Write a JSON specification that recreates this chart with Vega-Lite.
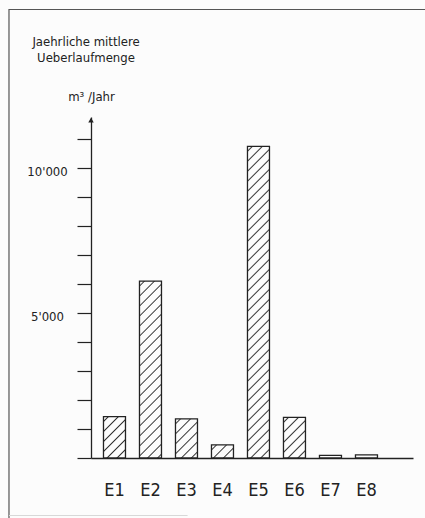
{
  "$schema": "https://vega.github.io/schema/vega-lite/v6.json",
  "autosize": "none",
  "width": 322,
  "height": 341,
  "padding": {"left": 91, "top": 117, "right": 12, "bottom": 60},
  "background": "#fcfcfc",
  "config": {"view": {"stroke": null}},
  "title": {
    "text": ["Jaehrliche mittlere", "Ueberlaufmenge"],
    "anchor": "start",
    "align": "center",
    "dx": -5,
    "frame": "group",
    "offset": -56,
    "lineHeight": 16,
    "fontSize": 13,
    "font": "DejaVu Sans Condensed, DejaVu Sans, sans-serif",
    "fontWeight": "normal",
    "color": "#222"
  },
  "resolve": {"scale": {"x": "independent"}, "axis": {"y": "independent"}},
  "layer": [
    {
      "data": {"values": [{}]},
      "mark": {"type": "rect", "fill": "transparent", "stroke": "#555", "strokeWidth": 1.2},
      "encoding": {
        "x": {"datum": -0.2547, "type": "quantitative", "scale": {"domain": [0, 1]}, "axis": null},
        "x2": {"datum": 1.3},
        "y": {"datum": 15467, "type": "quantitative", "scale": {"domain": [0, 11760], "nice": false}, "axis": null},
        "y2": {"datum": -2600}
      }
    },
    {
      "data": {"values": [{}]},
      "mark": {"type": "rule", "stroke": "#d8d8d8", "strokeWidth": 1},
      "encoding": {
        "x": {"datum": -0.2547, "type": "quantitative", "scale": {"domain": [0, 1]}, "axis": null},
        "x2": {"datum": 0.3},
        "y": {"datum": -1983, "type": "quantitative", "scale": {"domain": [0, 11760], "nice": false}, "axis": null}
      }
    },
    {
      "data": {"values": [{}]},
      "mark": {"type": "point", "shape": "triangle-up", "filled": true, "size": 30, "color": "#222", "opacity": 1},
      "encoding": {
        "x": {"datum": 0, "type": "quantitative", "scale": {"domain": [0, 1]}, "axis": null},
        "y": {"datum": 11650, "type": "quantitative", "scale": {"domain": [0, 11760], "nice": false}, "axis": null}
      }
    },
    {
      "data": {"values": [
        {"id": "E1", "v": 1430},
        {"id": "E2", "v": 6100},
        {"id": "E3", "v": 1350},
        {"id": "E4", "v": 450},
        {"id": "E5", "v": 10750},
        {"id": "E6", "v": 1400},
        {"id": "E7", "v": 90},
        {"id": "E8", "v": 110}
      ]},
      "mark": {"type": "bar", "stroke": "#222", "strokeWidth": 1.3},
      "encoding": {
        "x": {
          "field": "id", "type": "nominal", "sort": null,
          "scale": {"paddingInner": 0.3889, "paddingOuter": 0.667, "align": 0.26},
          "axis": {
            "title": null, "ticks": false, "tickSize": 0, "domain": true, "domainColor": "#222", "domainWidth": 1.3,
            "labelFont": "DejaVu Sans Condensed, DejaVu Sans, sans-serif",
            "labelFontSize": 18, "labelColor": "#222", "labelPadding": 23, "labelAngle": 0, "labelBaseline": "top"
          }
        },
        "y": {
          "field": "v", "type": "quantitative",
          "scale": {"domain": [0, 11760], "nice": false},
          "axis": {
            "title": "m³ /Jahr", "titleAngle": 0, "titleX": 0, "titleY": -21, "titleAlign": "center", "titleBaseline": "middle",
            "titleFont": "DejaVu Sans Condensed, DejaVu Sans, sans-serif", "titleFontSize": 13, "titleFontWeight": "normal", "titleColor": "#222",
            "values": [0, 1000, 2000, 3000, 4000, 5000, 6000, 7000, 8000, 9000, 10000, 11000],
            "tickSize": 14, "tickColor": "#222", "tickWidth": 1.2,
            "domainColor": "#222", "domainWidth": 1.3, "grid": false,
            "labelExpr": "datum.value == 5000 ? \"5'000\" : datum.value == 10000 ? \"10'000\" : ''",
            "labelAlign": "center", "labelBaseline": "middle", "labelOffset": 3, "labelPadding": 30, "labelOverlap": false,
            "labelFont": "DejaVu Sans Condensed, DejaVu Sans, sans-serif", "labelFontSize": 13, "labelColor": "#222"
          }
        },
        "fill": {
          "condition": [
            {"test": "datum.id === 'E1'", "value": {"gradient": "linear", "x1": 0, "y1": 0, "x2": 0.6336, "y2": 1.1943, "stops": [
              {"offset": 0.0567, "color": "#fcfcfc"}, {"offset": 0.0788, "color": "#333"}, {"offset": 0.1009, "color": "#fcfcfc"},
              {"offset": 0.2142, "color": "#fcfcfc"}, {"offset": 0.2363, "color": "#333"}, {"offset": 0.2584, "color": "#fcfcfc"},
              {"offset": 0.3718, "color": "#fcfcfc"}, {"offset": 0.3939, "color": "#333"}, {"offset": 0.4160, "color": "#fcfcfc"},
              {"offset": 0.5294, "color": "#fcfcfc"}, {"offset": 0.5515, "color": "#333"}, {"offset": 0.5736, "color": "#fcfcfc"},
              {"offset": 0.6869, "color": "#fcfcfc"}, {"offset": 0.7090, "color": "#333"}, {"offset": 0.7311, "color": "#fcfcfc"},
              {"offset": 0.8445, "color": "#fcfcfc"}, {"offset": 0.8666, "color": "#333"}, {"offset": 0.8887, "color": "#fcfcfc"}
            ]}},
            {"test": "datum.id === 'E2'", "value": {"gradient": "linear", "x1": 0, "y1": 0, "x2": 0.1377, "y2": 1.1072, "stops": [
              {"offset": 0.0181, "color": "#fcfcfc"}, {"offset": 0.0251, "color": "#333"}, {"offset": 0.0321, "color": "#fcfcfc"},
              {"offset": 0.0684, "color": "#fcfcfc"}, {"offset": 0.0754, "color": "#333"}, {"offset": 0.0824, "color": "#fcfcfc"},
              {"offset": 0.1187, "color": "#fcfcfc"}, {"offset": 0.1257, "color": "#333"}, {"offset": 0.1327, "color": "#fcfcfc"},
              {"offset": 0.1690, "color": "#fcfcfc"}, {"offset": 0.1760, "color": "#333"}, {"offset": 0.1830, "color": "#fcfcfc"},
              {"offset": 0.2192, "color": "#fcfcfc"}, {"offset": 0.2262, "color": "#333"}, {"offset": 0.2332, "color": "#fcfcfc"},
              {"offset": 0.2695, "color": "#fcfcfc"}, {"offset": 0.2765, "color": "#333"}, {"offset": 0.2835, "color": "#fcfcfc"},
              {"offset": 0.3198, "color": "#fcfcfc"}, {"offset": 0.3268, "color": "#333"}, {"offset": 0.3338, "color": "#fcfcfc"},
              {"offset": 0.3701, "color": "#fcfcfc"}, {"offset": 0.3771, "color": "#333"}, {"offset": 0.3841, "color": "#fcfcfc"},
              {"offset": 0.4203, "color": "#fcfcfc"}, {"offset": 0.4273, "color": "#333"}, {"offset": 0.4343, "color": "#fcfcfc"},
              {"offset": 0.4706, "color": "#fcfcfc"}, {"offset": 0.4776, "color": "#333"}, {"offset": 0.4846, "color": "#fcfcfc"},
              {"offset": 0.5209, "color": "#fcfcfc"}, {"offset": 0.5279, "color": "#333"}, {"offset": 0.5349, "color": "#fcfcfc"},
              {"offset": 0.5712, "color": "#fcfcfc"}, {"offset": 0.5782, "color": "#333"}, {"offset": 0.5852, "color": "#fcfcfc"},
              {"offset": 0.6214, "color": "#fcfcfc"}, {"offset": 0.6284, "color": "#333"}, {"offset": 0.6354, "color": "#fcfcfc"},
              {"offset": 0.6717, "color": "#fcfcfc"}, {"offset": 0.6787, "color": "#333"}, {"offset": 0.6857, "color": "#fcfcfc"},
              {"offset": 0.7220, "color": "#fcfcfc"}, {"offset": 0.7290, "color": "#333"}, {"offset": 0.7360, "color": "#fcfcfc"},
              {"offset": 0.7723, "color": "#fcfcfc"}, {"offset": 0.7793, "color": "#333"}, {"offset": 0.7863, "color": "#fcfcfc"},
              {"offset": 0.8225, "color": "#fcfcfc"}, {"offset": 0.8295, "color": "#333"}, {"offset": 0.8365, "color": "#fcfcfc"},
              {"offset": 0.8728, "color": "#fcfcfc"}, {"offset": 0.8798, "color": "#333"}, {"offset": 0.8868, "color": "#fcfcfc"},
              {"offset": 0.9231, "color": "#fcfcfc"}, {"offset": 0.9301, "color": "#333"}, {"offset": 0.9371, "color": "#fcfcfc"},
              {"offset": 0.9734, "color": "#fcfcfc"}, {"offset": 0.9804, "color": "#333"}, {"offset": 0.9874, "color": "#fcfcfc"}
            ]}},
            {"test": "datum.id === 'E3'", "value": {"gradient": "linear", "x1": 0, "y1": 0, "x2": 0.6671, "y2": 1.1871, "stops": [
              {"offset": 0.0589, "color": "#fcfcfc"}, {"offset": 0.0818, "color": "#333"}, {"offset": 0.1047, "color": "#fcfcfc"},
              {"offset": 0.2224, "color": "#fcfcfc"}, {"offset": 0.2453, "color": "#333"}, {"offset": 0.2682, "color": "#fcfcfc"},
              {"offset": 0.3859, "color": "#fcfcfc"}, {"offset": 0.4088, "color": "#333"}, {"offset": 0.4317, "color": "#fcfcfc"},
              {"offset": 0.5495, "color": "#fcfcfc"}, {"offset": 0.5724, "color": "#333"}, {"offset": 0.5953, "color": "#fcfcfc"},
              {"offset": 0.7130, "color": "#fcfcfc"}, {"offset": 0.7359, "color": "#333"}, {"offset": 0.7588, "color": "#fcfcfc"},
              {"offset": 0.8765, "color": "#fcfcfc"}, {"offset": 0.8994, "color": "#333"}, {"offset": 0.9223, "color": "#fcfcfc"}
            ]}},
            {"test": "datum.id === 'E4'", "value": {"gradient": "linear", "x1": 0, "y1": 0, "x2": 1.1785, "y2": 0.6991, "stops": [
              {"offset": 0.1028, "color": "#fcfcfc"}, {"offset": 0.1427, "color": "#333"}, {"offset": 0.1826, "color": "#fcfcfc"},
              {"offset": 0.3881, "color": "#fcfcfc"}, {"offset": 0.4280, "color": "#333"}, {"offset": 0.4679, "color": "#fcfcfc"},
              {"offset": 0.6734, "color": "#fcfcfc"}, {"offset": 0.7133, "color": "#333"}, {"offset": 0.7532, "color": "#fcfcfc"}
            ]}},
            {"test": "datum.id === 'E5'", "value": {"gradient": "linear", "x1": 0, "y1": 0, "x2": 0.07517, "y2": 1.0653, "stops": [
              {"offset": 0.0108, "color": "#fcfcfc"}, {"offset": 0.0150, "color": "#333"}, {"offset": 0.0192, "color": "#fcfcfc"},
              {"offset": 0.0407, "color": "#fcfcfc"}, {"offset": 0.0449, "color": "#333"}, {"offset": 0.0491, "color": "#fcfcfc"},
              {"offset": 0.0707, "color": "#fcfcfc"}, {"offset": 0.0749, "color": "#333"}, {"offset": 0.0791, "color": "#fcfcfc"},
              {"offset": 0.1007, "color": "#fcfcfc"}, {"offset": 0.1049, "color": "#333"}, {"offset": 0.1091, "color": "#fcfcfc"},
              {"offset": 0.1306, "color": "#fcfcfc"}, {"offset": 0.1348, "color": "#333"}, {"offset": 0.1390, "color": "#fcfcfc"},
              {"offset": 0.1606, "color": "#fcfcfc"}, {"offset": 0.1648, "color": "#333"}, {"offset": 0.1690, "color": "#fcfcfc"},
              {"offset": 0.1906, "color": "#fcfcfc"}, {"offset": 0.1948, "color": "#333"}, {"offset": 0.1990, "color": "#fcfcfc"},
              {"offset": 0.2205, "color": "#fcfcfc"}, {"offset": 0.2247, "color": "#333"}, {"offset": 0.2289, "color": "#fcfcfc"},
              {"offset": 0.2505, "color": "#fcfcfc"}, {"offset": 0.2547, "color": "#333"}, {"offset": 0.2589, "color": "#fcfcfc"},
              {"offset": 0.2805, "color": "#fcfcfc"}, {"offset": 0.2847, "color": "#333"}, {"offset": 0.2889, "color": "#fcfcfc"},
              {"offset": 0.3104, "color": "#fcfcfc"}, {"offset": 0.3146, "color": "#333"}, {"offset": 0.3188, "color": "#fcfcfc"},
              {"offset": 0.3404, "color": "#fcfcfc"}, {"offset": 0.3446, "color": "#333"}, {"offset": 0.3488, "color": "#fcfcfc"},
              {"offset": 0.3703, "color": "#fcfcfc"}, {"offset": 0.3745, "color": "#333"}, {"offset": 0.3787, "color": "#fcfcfc"},
              {"offset": 0.4003, "color": "#fcfcfc"}, {"offset": 0.4045, "color": "#333"}, {"offset": 0.4087, "color": "#fcfcfc"},
              {"offset": 0.4303, "color": "#fcfcfc"}, {"offset": 0.4345, "color": "#333"}, {"offset": 0.4387, "color": "#fcfcfc"},
              {"offset": 0.4602, "color": "#fcfcfc"}, {"offset": 0.4644, "color": "#333"}, {"offset": 0.4686, "color": "#fcfcfc"},
              {"offset": 0.4902, "color": "#fcfcfc"}, {"offset": 0.4944, "color": "#333"}, {"offset": 0.4986, "color": "#fcfcfc"},
              {"offset": 0.5201, "color": "#fcfcfc"}, {"offset": 0.5243, "color": "#333"}, {"offset": 0.5285, "color": "#fcfcfc"},
              {"offset": 0.5501, "color": "#fcfcfc"}, {"offset": 0.5543, "color": "#333"}, {"offset": 0.5585, "color": "#fcfcfc"},
              {"offset": 0.5801, "color": "#fcfcfc"}, {"offset": 0.5843, "color": "#333"}, {"offset": 0.5885, "color": "#fcfcfc"},
              {"offset": 0.6100, "color": "#fcfcfc"}, {"offset": 0.6142, "color": "#333"}, {"offset": 0.6184, "color": "#fcfcfc"},
              {"offset": 0.6400, "color": "#fcfcfc"}, {"offset": 0.6442, "color": "#333"}, {"offset": 0.6484, "color": "#fcfcfc"},
              {"offset": 0.6700, "color": "#fcfcfc"}, {"offset": 0.6742, "color": "#333"}, {"offset": 0.6784, "color": "#fcfcfc"},
              {"offset": 0.6999, "color": "#fcfcfc"}, {"offset": 0.7041, "color": "#333"}, {"offset": 0.7083, "color": "#fcfcfc"},
              {"offset": 0.7299, "color": "#fcfcfc"}, {"offset": 0.7341, "color": "#333"}, {"offset": 0.7383, "color": "#fcfcfc"},
              {"offset": 0.7598, "color": "#fcfcfc"}, {"offset": 0.7640, "color": "#333"}, {"offset": 0.7682, "color": "#fcfcfc"},
              {"offset": 0.7898, "color": "#fcfcfc"}, {"offset": 0.7940, "color": "#333"}, {"offset": 0.7982, "color": "#fcfcfc"},
              {"offset": 0.8198, "color": "#fcfcfc"}, {"offset": 0.8240, "color": "#333"}, {"offset": 0.8282, "color": "#fcfcfc"},
              {"offset": 0.8497, "color": "#fcfcfc"}, {"offset": 0.8539, "color": "#333"}, {"offset": 0.8581, "color": "#fcfcfc"},
              {"offset": 0.8797, "color": "#fcfcfc"}, {"offset": 0.8839, "color": "#333"}, {"offset": 0.8881, "color": "#fcfcfc"},
              {"offset": 0.9097, "color": "#fcfcfc"}, {"offset": 0.9139, "color": "#333"}, {"offset": 0.9181, "color": "#fcfcfc"},
              {"offset": 0.9396, "color": "#fcfcfc"}, {"offset": 0.9438, "color": "#333"}, {"offset": 0.9480, "color": "#fcfcfc"},
              {"offset": 0.9696, "color": "#fcfcfc"}, {"offset": 0.9738, "color": "#333"}, {"offset": 0.9780, "color": "#fcfcfc"}
            ]}},
            {"test": "datum.id === 'E6'", "value": {"gradient": "linear", "x1": 0, "y1": 0, "x2": 0.6458, "y2": 1.1919, "stops": [
              {"offset": 0.0575, "color": "#fcfcfc"}, {"offset": 0.0799, "color": "#333"}, {"offset": 0.1023, "color": "#fcfcfc"},
              {"offset": 0.2172, "color": "#fcfcfc"}, {"offset": 0.2396, "color": "#333"}, {"offset": 0.2620, "color": "#fcfcfc"},
              {"offset": 0.3770, "color": "#fcfcfc"}, {"offset": 0.3994, "color": "#333"}, {"offset": 0.4218, "color": "#fcfcfc"},
              {"offset": 0.5367, "color": "#fcfcfc"}, {"offset": 0.5591, "color": "#333"}, {"offset": 0.5815, "color": "#fcfcfc"},
              {"offset": 0.6964, "color": "#fcfcfc"}, {"offset": 0.7188, "color": "#333"}, {"offset": 0.7412, "color": "#fcfcfc"},
              {"offset": 0.8562, "color": "#fcfcfc"}, {"offset": 0.8786, "color": "#333"}, {"offset": 0.9010, "color": "#fcfcfc"}
            ]}}
          ],
          "value": "#fcfcfc"
        }
      }
    }
  ]
}
